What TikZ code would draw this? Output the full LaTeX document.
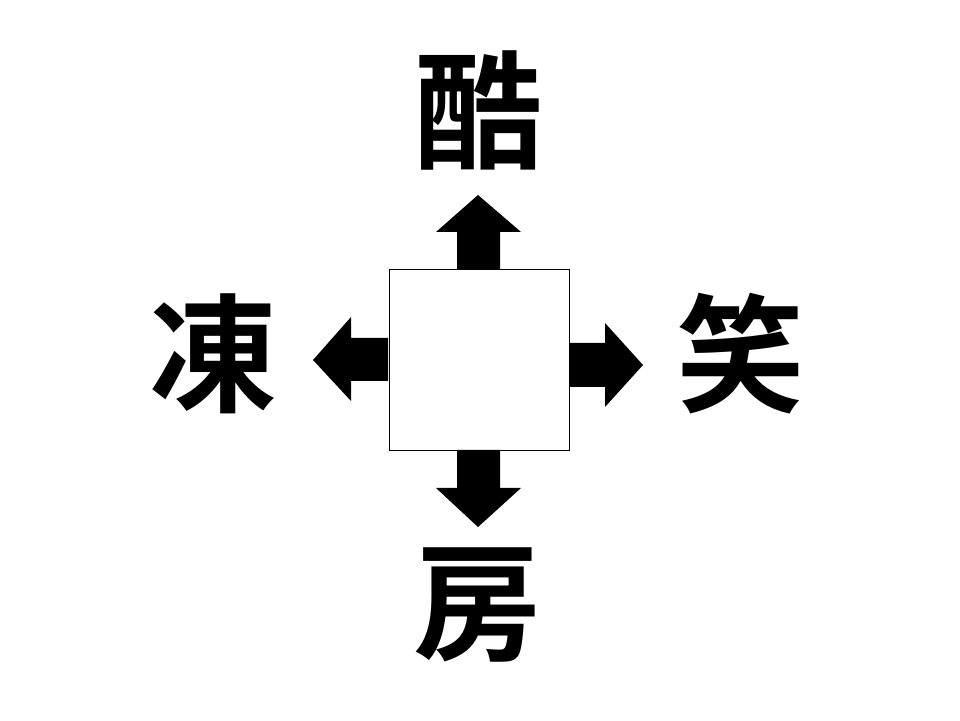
\documentclass[tikz,border=0pt]{standalone}
\usepackage{fontspec}
\newfontfamily\cjk{Noto Sans CJK JP}[BoldFont={Noto Sans CJK JP Bold}]
\begin{document}
\begin{tikzpicture}[x=1pt,y=1pt,
  kanji/.style={font=\cjk\bfseries\fontsize{128}{128}\selectfont, inner sep=0pt},
  arr/.style={fill=black, draw=none}]
\useasboundingbox (0,0) rectangle (960,720);
\fill[white] (0,0) rectangle (960,720);
% center box
\node[draw=black, line width=0.8pt, minimum width=180pt, minimum height=181pt, inner sep=0pt] (box) at (479,360.5) {};
% up arrow
\fill[arr] (457,451) -- (457,488) -- (436,488) -- (478,525) -- (521,488) -- (500,488) -- (500,451) -- cycle;
% down arrow
\fill[arr] (457,270) -- (457,232) -- (436,232) -- (478,193) -- (521,232) -- (500,232) -- (500,270) -- cycle;
% left arrow
\fill[arr] (388,382) -- (351,382) -- (351,403) -- (313,360) -- (351,319) -- (351,339) -- (388,339) -- cycle;
% right arrow
\fill[arr] (569,377) -- (605,377) -- (605,397) -- (643,355) -- (605,313) -- (605,333) -- (569,333) -- cycle;
% labels
\node[kanji] (t) at (478,610) {酷};
\node[kanji] (l) at (213,366) {凍};
\node[kanji] (r) at (740,366) {笑};
\node[kanji] (b) at (477,115) {房};
\end{tikzpicture}
\end{document}
